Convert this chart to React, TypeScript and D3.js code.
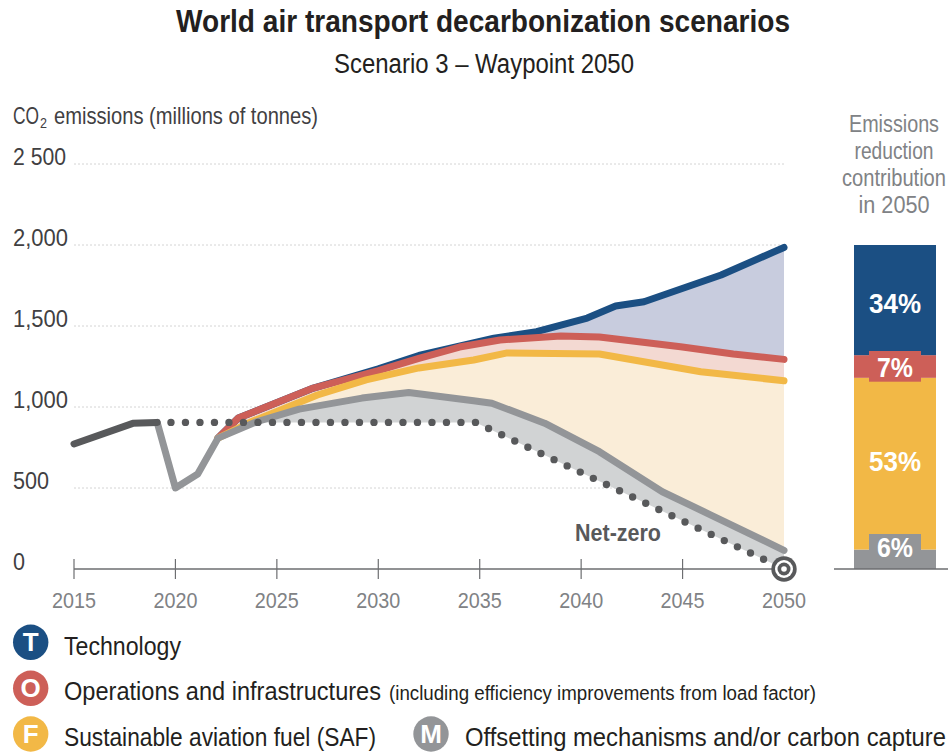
import React from "react";
import * as d3 from "d3";

type Pt = [number, number];

// Emission pathways as [year, Mt CO2]
const history: Pt[] = [[2015, 772], [2017.9, 899], [2019.1, 905]];
const offsets: Pt[] = [[2019.1, 905], [2020, 500], [2021.1, 586], [2022.1, 808], [2024, 909], [2026.1, 987], [2029.2, 1055], [2031.5, 1090], [2034.7, 1039], [2035.6, 1023], [2038.2, 900], [2040.9, 724], [2044, 477], [2046.4, 333], [2050, 115]];
const fuel: Pt[] = [[2022.1, 808], [2023.8, 912], [2027, 1074], [2029.4, 1167], [2032, 1241], [2034.7, 1290], [2036.3, 1333], [2040.9, 1327], [2045.9, 1218], [2050, 1162]];
const operations: Pt[] = [[2022.1, 808], [2023.1, 932], [2026.8, 1117], [2030, 1225], [2032, 1300], [2034, 1370], [2036, 1414], [2039, 1438], [2040.9, 1432], [2044.9, 1372], [2047.5, 1327], [2050, 1294]];
const technology: Pt[] = [[2022.1, 808], [2023.1, 932], [2026.8, 1117], [2030, 1235], [2032, 1318], [2035.7, 1425], [2037.8, 1465], [2040.3, 1549], [2041.7, 1623], [2043.1, 1650], [2046.9, 1815], [2050, 1985]];
const netZero: Pt[] = [[2019.78, 905], [2034.8, 905], [2050, 0]];
const netZeroFloor: Pt[] = [[2024, 905], [2034.8, 905], [2050, 0]];

const yTicks = [0, 500, 1000, 1500, 2000, 2500];
const yLabels = ["0", "500", "1,000", "1,500", "2,000", "2 500"];
const yLabelWidths = [12, 36, 55, 55, 55, 53];
const xTicks = [2015, 2020, 2025, 2030, 2035, 2040, 2045, 2050];

const shareNames = ["Offsetting", "Fuel", "Operations", "Technology"];
const shareValues = [6, 53, 7, 34];

const headerLines = ["Emissions", "reduction", "contribution", "in 2050"];
const headerWidths = [90, 79, 104, 71];

const BLUE = "#1B4F83";
const RED = "#CD5F58";
const YELLOW = "#F2B846";
const GREY = "#939598";
const DARK = "#58595B";
const shareColors = [GREY, YELLOW, RED, BLUE];

const NARROW = "'Liberation Sans Narrow', 'Liberation Sans', sans-serif";

const x = d3.scaleLinear().domain([2015, 2050]).range([74, 784]);
const y = d3.scaleLinear().domain([0, 2500]).range([569, 164]);
const shareY = d3.scaleLinear().domain([0, 100]).range([569, 245]);

const line = d3.line<Pt>().x(d => x(d[0])).y(d => y(d[1]));

// Closed outline running along one pathway and back along another
function band(upper: Pt[], lower: Pt[]) {
  const a = upper.map(d => `${x(d[0])},${y(d[1])}`);
  const b = [...lower].reverse().map(d => `${x(d[0])},${y(d[1])}`);
  return `M${a.join("L")}L${b.join("L")}Z`;
}

function Label(props: { x: number; y: number; w?: number; size: number; fill: string; bold?: boolean; anchor?: string; children: React.ReactNode }) {
  const { x: px, y: py, w, size, fill, bold, anchor, children } = props;
  return (
    <text x={px} y={py} fontSize={size} fill={fill} fontFamily={NARROW} fontWeight={bold ? 700 : 400}
      textAnchor={anchor ?? "start"} textLength={w} lengthAdjust={w ? "spacingAndGlyphs" : undefined}>
      {children}
    </text>
  );
}

function Badge({ cx, cy, fill, letter }: { cx: number; cy: number; fill: string; letter: string }) {
  return (
    <g>
      <circle cx={cx} cy={cy} r={17.7} fill={fill} />
      <text x={cx} y={cy + 9} textAnchor="middle" fontSize={26} fontWeight={700} fill="#fff" fontFamily={NARROW}>{letter}</text>
    </g>
  );
}

export default function App() {
  let acc = 0;
  const segments = shareValues.map((v, i) => {
    const s = { name: shareNames[i], v, color: shareColors[i], y0: shareY(acc + v), y1: shareY(acc) };
    acc += v;
    return s;
  });
  const X0 = 854, X1 = 936, TAB0 = 869, TAB1 = 921;

  return (
    <svg width={948} height={752} viewBox="0 0 948 752" style={{ position: "absolute", left: 0, top: 0, display: "block" }}>
      <rect width={948} height={752} fill="#fff" />
      <Label x={176} y={32} w={614} size={31} bold fill="#231F20">World air transport decarbonization scenarios</Label>
      <Label x={334} y={73} w={300} size={27} fill="#231F20">Scenario 3 – Waypoint 2050</Label>

      <Label x={13} y={124} w={26} size={24} fill="#414042">CO</Label>
      <Label x={40} y={128} w={7} size={14} fill="#414042">2</Label>
      <Label x={54} y={124} w={264} size={24} fill="#414042">emissions (millions of tonnes)</Label>

      {yTicks.slice(1).map(t => (
        <line key={t} x1={74} x2={784} y1={y(t)} y2={y(t)} stroke="#D4D4D4" strokeWidth={1} strokeDasharray="2 2" />
      ))}
      {yTicks.map((t, i) => (
        <Label key={t} x={13} y={y(t) + 1} size={23} fill="#414042" w={yLabelWidths[i]}>{yLabels[i]}</Label>
      ))}

      <path d={band(technology, operations)} fill="#C8CCDE" />
      <path d={band(operations, fuel)} fill="#F3D9D2" />
      <path d={band(fuel, offsets.slice(3))} fill="#FAEDD8" />
      <path d={band(offsets.slice(4), netZeroFloor)} fill="#D1D3D4" />

      <line x1={74} x2={784} y1={569} y2={569} stroke="#6D6E71" strokeWidth={1.6} />
      {xTicks.map(t => (
        <g key={t}>
          <line x1={x(t)} x2={x(t)} y1={559} y2={579} stroke="#6D6E71" strokeWidth={1.2} />
          <Label x={x(t)} y={608} size={22} w={44} fill="#808285" anchor="middle">{t}</Label>
        </g>
      ))}

      <path d={line(technology)!} fill="none" stroke={BLUE} strokeWidth={7} strokeLinecap="round" strokeLinejoin="round" />
      <path d={line(operations)!} fill="none" stroke={RED} strokeWidth={7} strokeLinecap="round" strokeLinejoin="round" />
      <path d={line(fuel)!} fill="none" stroke={YELLOW} strokeWidth={7} strokeLinecap="round" strokeLinejoin="round" />
      <path d={line(offsets)!} fill="none" stroke={GREY} strokeWidth={7} strokeLinecap="round" strokeLinejoin="round" />
      <path d={line(history)!} fill="none" stroke={DARK} strokeWidth={7} strokeLinecap="round" strokeLinejoin="round" />
      <path d={line(netZero)!} fill="none" stroke={DARK} strokeWidth={7.4} strokeLinecap="round" strokeDasharray="0 14.5" />

      <Label x={575} y={541} w={86} size={23} bold fill={DARK}>Net-zero</Label>

      {/* Net-zero target */}
      <circle cx={x(2050)} cy={y(0)} r={12.7} fill={DARK} />
      <circle cx={x(2050)} cy={y(0)} r={9} fill="#fff" />
      <circle cx={x(2050)} cy={y(0)} r={6.5} fill={DARK} />
      <circle cx={x(2050)} cy={y(0)} r={2.8} fill="#fff" />

      {/* 2050 contribution column */}
      {headerLines.map((s, i) => (
        <Label key={s} x={894} y={132 + i * 27} w={headerWidths[i]} size={23.5} fill="#808285" anchor="middle">{s}</Label>
      ))}
      {segments.map(s => (
        <rect key={s.name} x={X0} width={X1 - X0} y={s.y0} height={s.y1 - s.y0} fill={s.color} />
      ))}
      <rect x={TAB0} width={TAB1 - TAB0} y={351} height={30.7} fill={RED} />
      <rect x={TAB0} width={TAB1 - TAB0} y={534} height={20} fill={GREY} />
      <line x1={834} x2={948} y1={569} y2={569} stroke="#6D6E71" strokeWidth={1.6} />
      <Label x={895} y={313} w={52} size={28} bold fill="#fff" anchor="middle">34%</Label>
      <Label x={895} y={377} w={36} size={28} bold fill="#fff" anchor="middle">7%</Label>
      <Label x={895} y={471} w={52} size={28} bold fill="#fff" anchor="middle">53%</Label>
      <Label x={895} y={557} w={36} size={28} bold fill="#fff" anchor="middle">6%</Label>

      {/* Legend */}
      <Badge cx={30.7} cy={642.3} fill={BLUE} letter="T" />
      <Badge cx={30.7} cy={688.3} fill={RED} letter="O" />
      <Badge cx={30.7} cy={734} fill={YELLOW} letter="F" />
      <Badge cx={431} cy={734} fill={GREY} letter="M" />
      <Label x={64} y={655} w={117} size={26} fill="#231F20">Technology</Label>
      <Label x={64} y={700} w={317} size={26} fill="#231F20">Operations and infrastructures</Label>
      <Label x={389} y={700} w={427} size={20} fill="#231F20">(including efficiency improvements from load factor)</Label>
      <Label x={64} y={746} w={312} size={26} fill="#231F20">Sustainable aviation fuel (SAF)</Label>
      <Label x={465} y={746} w={481} size={26} fill="#231F20">Offsetting mechanisms and/or carbon capture</Label>
    </svg>
  );
}
